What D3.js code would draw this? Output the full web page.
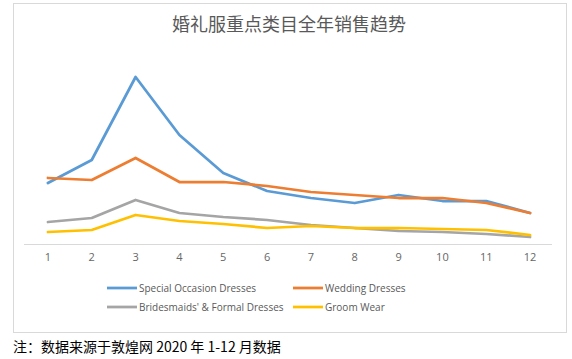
<!DOCTYPE html>
<html><head><meta charset="utf-8">
<script src="https://cdn.jsdelivr.net/npm/d3@7"></script>
<style>body{margin:0;background:#fff;}svg{display:block;}</style>
</head><body>
<svg id="c" width="572" height="359"></svg>
<script>
const months = ["1","2","3","4","5","6","7","8","9","10","11","12"];
const specialOccasion = [61, 84, 167, 109, 71, 53, 46, 41, 49, 43, 43, 31];
const wedding = [66, 64, 86, 62, 62, 58, 52, 49, 46, 46, 41, 31];
const bridesmaids = [22, 26, 44, 31, 27, 24, 19, 16, 13, 12, 10, 7];
const groom = [12, 14, 29, 23, 20, 16, 18, 16, 16, 15, 14, 9];
const seriesNames = ["Special Occasion Dresses", "Wedding Dresses", "Bridesmaids' & Formal Dresses", "Groom Wear"];
const title = "婚礼服重点类目全年销售趋势";
const note = "注：数据来源于敦煌网 2020 年 1-12 月数据";

const series = [
  {name: seriesNames[0], values: specialOccasion, color: "#5b9bd5"},
  {name: seriesNames[1], values: wedding, color: "#ed7d31"},
  {name: seriesNames[2], values: bridesmaids, color: "#a5a5a5"},
  {name: seriesNames[3], values: groom, color: "#ffc000"}
];

const svg = d3.select("#c");
svg.append("rect").attr("x", 13.5).attr("y", 3.5).attr("width", 553).attr("height", 329)
  .attr("fill", "#fff").attr("stroke", "#d9d9d9").attr("stroke-width", 1);

svg.append("text").attr("x", 289).attr("y", 31).attr("text-anchor", "middle")
  .attr("font-family", "'Noto Sans CJK SC', sans-serif").attr("font-size", 18)
  .attr("fill", "#595959").text(title);

const x = d3.scaleBand().domain(months).range([26, 552]);
const y = d3.scaleLinear().domain([0, 180]).range([244, 64]);

const xAxis = svg.append("g").attr("transform", "translate(0,244)")
  .call(d3.axisBottom(x).tickSize(0).tickPadding(9));
xAxis.select(".domain").attr("stroke", "#d9d9d9").attr("d", "M24,0.5H552");
xAxis.selectAll("text").attr("font-family", "'Open Sans', sans-serif").attr("font-size", 11).attr("fill", "#666");

const line = d3.line().x((d, i) => x(months[i]) + x.bandwidth() / 2).y(d => y(d));
series.forEach(s => {
  svg.append("path").datum(s.values).attr("d", line).attr("fill", "none")
    .attr("stroke", s.color).attr("stroke-width", 2.75).attr("stroke-linejoin", "round").attr("stroke-linecap", "round");
});

const legendPos = [[107, 288], [293, 288], [107, 307], [293, 307]];
series.forEach((s, i) => {
  const g = svg.append("g").attr("transform", `translate(${legendPos[i][0]},${legendPos[i][1]})`);
  g.append("line").attr("x1", 0).attr("x2", 30).attr("y1", 0).attr("y2", 0)
    .attr("stroke", s.color).attr("stroke-width", 2.75);
  g.append("text").attr("x", 32).attr("y", 4).attr("font-family", "'Open Sans', sans-serif")
    .attr("font-size", 10).attr("fill", "#595959").text(s.name);
});

svg.append("text").attr("x", 13).attr("y", 352)
  .attr("font-family", "'Noto Sans CJK SC', sans-serif").attr("font-size", 14).attr("font-weight", 400)
  .attr("fill", "#000").text(note);
</script>
</body></html>
